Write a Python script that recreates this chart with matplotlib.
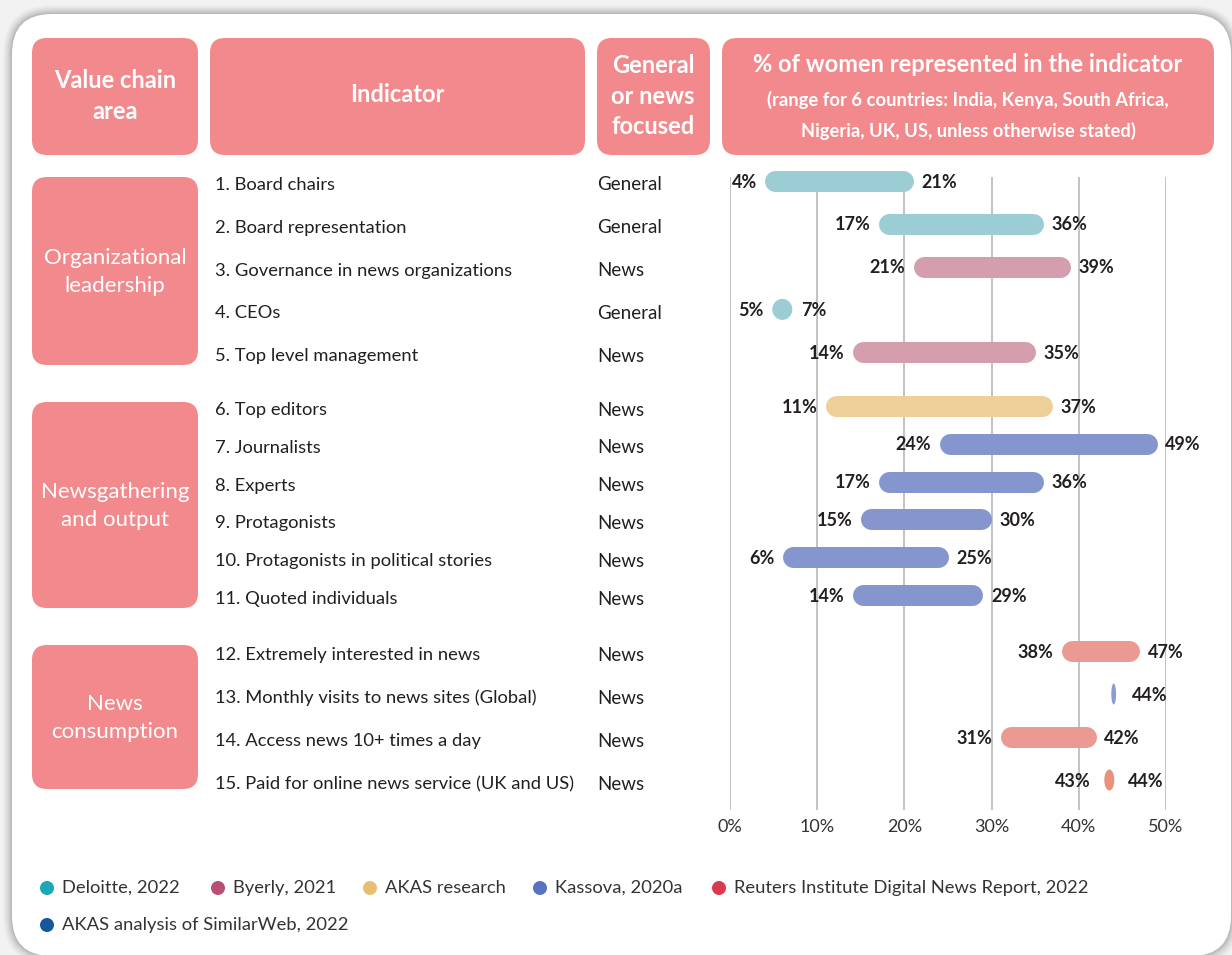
import matplotlib.pyplot as plt
from matplotlib.patches import FancyBboxPatch, Ellipse
import matplotlib.lines as mlines

plt.rcParams['font.family'] = ['Lato', 'DejaVu Sans']

# ---- data ----
indicators = ["1. Board chairs", "2. Board representation", "3. Governance in news organizations",
              "4. CEOs", "5. Top level management",
              "6. Top editors", "7. Journalists", "8. Experts", "9. Protagonists",
              "10. Protagonists in political stories", "11. Quoted individuals",
              "12. Extremely interested in news", "13. Monthly visits to news sites (Global)",
              "14. Access news 10+ times a day", "15. Paid for online news service (UK and US)"]
focus = ["General", "General", "News", "General", "News",
         "News", "News", "News", "News", "News", "News",
         "News", "News", "News", "News"]
low_pct = [4, 17, 21, 5, 14, 11, 24, 17, 15, 6, 14, 38, 44, 31, 43]
high_pct = [21, 36, 39, 7, 35, 37, 49, 36, 30, 25, 29, 47, 44, 42, 44]
low_labels = ["4%", "17%", "21%", "5%", "14%", "11%", "24%", "17%", "15%", "6%", "14%",
              "38%", None, "31%", "43%"]
bar_colors = ["#9DCDD4", "#9DCDD4", "#D59EAC", "#9DCDD4", "#D59EAC",
              "#EECF98", "#8596CF", "#8596CF", "#8596CF", "#8596CF", "#8596CF",
              "#EB9A93", "#8C9CD0", "#EB9A93", "#E8917B"]
groups = ["Organizational\nleadership", "Newsgathering\nand output", "News\nconsumption"]
group_sizes = [5, 6, 4]
ticks = [0, 10, 20, 30, 40, 50]
legend_names = ["Deloitte, 2022", "Byerly, 2021", "AKAS research", "Kassova, 2020a",
                "Reuters Institute Digital News Report, 2022", "AKAS analysis of SimilarWeb, 2022"]
legend_colors = ["#1BA8B5", "#B94F77", "#E8BF72", "#5674C2", "#DB3A4E", "#15579A"]

# ---- layout (pixels) ----
W, H = 1232, 955
PINK = "#F2898C"
INK = "#231F20"
group_top = [181, 406, 651]
group_step = [42.8, 37.8, 43.0]
group_box = [(177, 365), (402, 608), (645, 789)]
row_y = []
for g in range(3):
    for i in range(group_sizes[g]):
        row_y.append(group_top[g] + group_step[g] * i)

fig = plt.figure(figsize=(W / 100, H / 100), dpi=100)
fig.patch.set_facecolor("#F2F2F2")
ax = fig.add_axes([0, 0, 1, 1])
ax.set_xlim(0, W)
ax.set_ylim(H, 0)
ax.axis("off")

# card with soft shadow
for k, a in zip(range(9, 0, -1), [0.03, 0.04, 0.05, 0.06, 0.07, 0.08, 0.1, 0.12, 0.15]):
    ax.add_patch(FancyBboxPatch((12 - k, 14 - k), 1219 + 2 * k, 942 + 2 * k,
                                boxstyle="round,pad=0,rounding_size=%d" % (40 + k),
                                fc="#8A8A8A", ec="none", alpha=a))
ax.add_patch(FancyBboxPatch((12, 14), 1219, 942, boxstyle="round,pad=0,rounding_size=40",
                            fc="white", ec="none"))


def box(x0, y0, x1, y1):
    ax.add_patch(FancyBboxPatch((x0, y0), x1 - x0, y1 - y0,
                                boxstyle="round,pad=0,rounding_size=15", fc=PINK, ec="none"))


# header boxes
box(32, 38, 198, 155)
box(210, 38, 585, 155)
box(597, 38, 710, 155)
box(722, 38, 1214, 155)
hdr = dict(color="white", fontweight="bold", ha="center", va="center")
ax.text(115, 96, "Value chain\narea", fontsize=17, linespacing=1.45, **hdr)
ax.text(397, 94, "Indicator", fontsize=17, **hdr)
ax.text(653, 96, "General\nor news\nfocused", fontsize=17, linespacing=1.42, **hdr)
ax.text(968, 64, "% of women represented in the indicator", fontsize=17, **hdr)
ax.text(968, 115, "(range for 6 countries: India, Kenya, South Africa,\nNigeria, UK, US, unless otherwise stated)",
        fontsize=13.2, linespacing=1.85, **hdr)

# group boxes
for (y0, y1), name in zip(group_box, groups):
    box(32, y0, 198, y1)
    ax.text(115, (y0 + y1) / 2 + 1, name, color="white", fontsize=16, ha="center", va="center",
            linespacing=1.5)

# row texts
for y, name, f in zip(row_y, indicators, focus):
    ax.text(215, y + 4, name, color=INK, fontsize=13.2, ha="left", va="center")
    ax.text(597, y + 4, f, color=INK, fontsize=13.5, ha="left", va="center")

# ---- range bars ----
px0, px1 = 730, 1166
bx = fig.add_axes([px0 / W, 0, (px1 - px0) / W, 1])
bx.set_xlim(0, 50)
bx.set_ylim(H, 0)
bx.axis("off")
bx.patch.set_alpha(0)

bx.vlines(ticks, 177, 810, color="#BDBDBD", lw=1.3, zorder=1)
for t in ticks:
    bx.text(t, 827, "%d%%" % t, color="#333333", fontsize=13, ha="center", va="center")

px_per_pct = (px1 - px0) / 50
thick = 21
r = thick / 2 / px_per_pct
gap = 8 / px_per_pct
for y, lo, hi, ll, c in zip(row_y, low_pct, high_pct, low_labels, bar_colors):
    if hi - lo > 2 * r:
        bx.add_line(mlines.Line2D([lo + r, hi - r], [y, y], color=c, lw=thick * 0.72,
                                  solid_capstyle="round", zorder=3))
        left, right = lo, hi
    else:
        w = min(2.4, max(0.55, (hi - lo) * 1.15))
        cx = (lo + hi) / 2
        bx.add_patch(Ellipse((cx, y), w, thick, fc=c, ec="none", zorder=3))
        left, right = cx - max(w / 2, 1.2), cx + max(w / 2, 1.2)
    if ll is not None:
        bx.text(left - gap, y + 1, ll, color=INK, fontsize=13, fontweight="bold",
                ha="right", va="center", clip_on=False)
    bx.text(right + gap, y + 1, "%d%%" % hi, color=INK, fontsize=13, fontweight="bold",
            ha="left", va="center", clip_on=False)

# ---- legend ----
leg_x = [47, 218, 370, 540, 719, 47]
leg_y = [888, 888, 888, 888, 888, 925]
for x, y, name, c in zip(leg_x, leg_y, legend_names, legend_colors):
    ax.add_patch(Ellipse((x, y), 14, 14, fc=c, ec="none"))
    ax.text(x + 15, y, name, color="#333333", fontsize=13.2, ha="left", va="center")

fig.savefig("out.png", dpi=100, facecolor=fig.get_facecolor())
